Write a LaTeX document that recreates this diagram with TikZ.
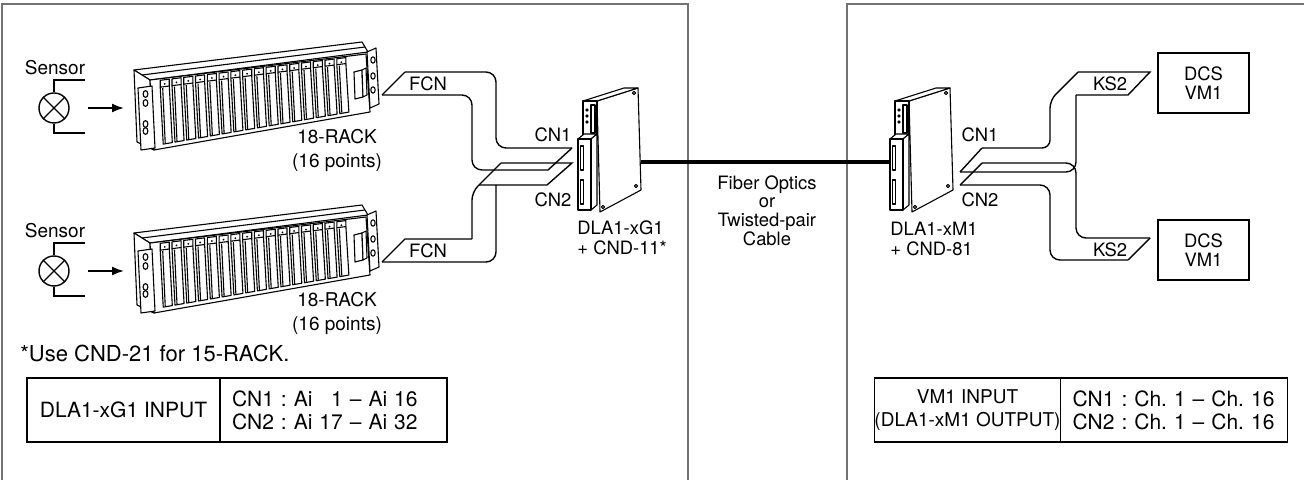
\documentclass[tikz,border=0pt]{standalone}
\usepackage{fontspec}
\setmainfont{TeX Gyre Heros}
\usetikzlibrary{positioning,calc}
\usetikzlibrary{arrows.meta}
\frenchspacing

\tikzset{
  lbl/.style={inner sep=0pt, font=\fontsize{9.5}{12}\selectfont},
  small/.style={inner sep=0pt, font=\fontsize{9.2}{10}\selectfont},
  tab/.style={inner sep=0pt, font=\fontsize{10.5}{11.5}\selectfont},
  cell/.style={draw, line width=0.7pt, minimum height=32pt, outer sep=0pt, tab},
  ribbon/.style={line width=0.7pt},
  panel/.style={draw=black!55, line width=0.9pt},
  rackline/.style={line width=0.55pt, line join=round},
}

\begin{document}
\begin{tikzpicture}[x=0.5pt, y=-0.5pt]
  \useasboundingbox (0,0) rectangle (1304,480);

  % frames
  \draw[panel] (2,480) -- (2,4) -- (688,4) -- (688,480);
  \draw[panel] (847,480) -- (847,4) -- (1304,4);

  % sensors and racks
  \foreach \dy/\i in {0/1,163/2} {
  \begin{scope}[shift={(0,\dy)}]
    \node[lbl] (t_\i) at (55,68) {Sensor};
    \node[draw, circle, minimum size=15pt, inner sep=0pt, line width=0.7pt] (s_\i) at (54,108) {};
    \draw[line width=0.6pt] (s_\i.north west) -- (s_\i.south east) (s_\i.north east) -- (s_\i.south west);
    \draw[line width=0.7pt] (s_\i.north) -- (54,80) -- (85,80);
    \draw[line width=0.7pt] (s_\i.south) -- (54,133) -- (85,133);
    \coordinate (a_\i) at (88,108);
    \coordinate (r_\i) at (124,108);
    \draw[-{Latex[length=6pt,width=4.5pt]}, line width=0.9pt] (a_\i) -- (r_\i);

    \draw[rackline, fill=white] (134,70) -- (362,42) -- (368,52) -- (150,80) -- cycle;
    \draw[rackline] (142,75) -- (365,47);
    \draw[rackline, fill=white] (134,70) -- (150,80) -- (154,150) -- (137,142) -- cycle;
    \draw[rackline, fill=white] (150,80) -- (366,54) -- (370,112) -- (154,150) -- cycle;
    \foreach \k in {0,...,15} {
      \pgfmathsetmacro{\ua}{0.045+0.0545*\k}
      \pgfmathsetmacro{\ub}{\ua+0.042}
      \pgfmathsetmacro{\xa}{150.5+216*\ua}
      \pgfmathsetmacro{\xb}{150.5+216*\ub}
      \pgfmathsetmacro{\ya}{88.4-27.44*\ua}
      \pgfmathsetmacro{\yb}{88.4-27.44*\ub}
      \pgfmathsetmacro{\yc}{145.8-37.28*\ub}
      \pgfmathsetmacro{\yd}{145.8-37.28*\ua}
      \pgfmathsetmacro{\ye}{81.5-26.4*\ua}
      \pgfmathsetmacro{\yf}{81.5-26.4*\ub}
      \draw[rackline] (\xa,\ya) -- (\xa,\ye) -- (\xb,\yf) -- (\xb,\yb);
      \fill (\xa+4.5,\ye+3.5) circle (0.5pt);
      \draw[rackline] (\xa,\ya) -- (\xb,\yb) -- (\xb+3,\yc) -- (\xa+3,\yd) -- cycle;
      \draw[rackline] (\xa+2.5,\ya+1) -- (\xa+5,\yd-1);
    }
    % connector and ears
    \draw[rackline, fill=white] (354,72) -- (362,70) -- (363,97) -- (355,99) -- cycle;
    \draw[rackline, fill=white] (362,70) -- (366,68) -- (367,95) -- (363,97) -- cycle;
    \draw[rackline, fill=white] (138,88) -- (152,86) -- (155,148) -- (141,150) -- cycle;
    \foreach \hy in {94,103,124,131} \draw[rackline] (145.5,\hy) ellipse (1.2pt and 1.7pt);
    \draw[rackline, fill=white] (367,52) -- (376,48) -- (379,104) -- (370,108) -- cycle;
    \foreach \hy in {60,76,90} \draw[rackline] (373,\hy) ellipse (1.1pt and 1.6pt);

    \node[lbl, align=center] (k_\i) at (337,150) {18-RACK\\(16 points)};
  \end{scope}
  }

  % flat cables to DLA1-xG1
  \node[small] (f_1) at (428,84) {FCN};
  \node[small] (f_2) at (428,251) {FCN};
  \draw[ribbon, rounded corners=5pt] (405,72) -- (496,72) -- (496,148) -- (572,148);
  \draw[ribbon, rounded corners=5pt] (382,95) -- (472,95) -- (472,170) -- (548,170);
  \draw[ribbon] (382,95) -- (405,72) (548,170) -- (572,148);
  \draw[ribbon] (382,262) -- (405,239) -- (472,239);
  \draw[ribbon, rounded corners=4pt] (472,239) -- (472,192) -- (501,163);
  \draw[ribbon] (501,163) -- (572,163) -- (547,185) -- (479,185);
  \draw[ribbon, rounded corners=5pt] (382,262) -- (496,262) -- (496,185);

  % DLA1 units
  \foreach \dx in {0,312} {
  \begin{scope}[shift={(\dx,0)}]
    \draw[rackline, fill=white] (597,101) -- (638,88) -- (641,190) -- (600,212) -- cycle;
    \draw[rackline, fill=white] (583,101) -- (624,88) -- (638,88) -- (597,101) -- cycle;
    \draw[rackline, fill=white] (583,101) rectangle (597,140);
    \draw[rackline] (591,105) rectangle (595,133);
    \foreach \ly in {110,116,122} \draw[rackline] (587,\ly) circle (0.6pt);
    \foreach \sx/\sy in {634/93,636/186,603/207} \draw[rackline] (\sx,\sy) circle (0.8pt);
    \draw[rackline, fill=white] (578,139) -- (584,134) -- (597,134) -- (591,139) -- cycle;
    \draw[rackline, fill=white] (591,139) -- (597,134) -- (597,205) -- (591,210) -- cycle;
    \draw[rackline, fill=white] (578,139) rectangle (591,210);
    \draw[rackline] (580.5,146) rectangle (583.5,170);
    \draw[rackline] (580.5,180) rectangle (583.5,204);
  \end{scope}
  }

  % link
  \coordinate (c_1) at (641,162);
  \coordinate (c_2) at (890,162);
  \draw[line width=1.6pt] (c_1) -- (c_2);

  \node[small] (n_1) at (553,135) {CN1};
  \node[small] (n_2) at (553,200) {CN2};
  \node[small] (n_3) at (980,135) {CN1};
  \node[small] (n_4) at (980,200) {CN2};
  \node[small, anchor=west, align=left] (u_1) at (577,238) {DLA1-xG1\\+ CND-11*};
  \node[small, anchor=west, align=left] (u_2) at (890,239) {DLA1-xM1\\+ CND-81};
  \node[small, align=center, font=\fontsize{9.2}{9.3}\selectfont] (l_1) at (767,210.5) {Fiber Optics\\or\\Twisted-pair\\Cable};

  % flat cables to DCS
  \draw[ribbon, rounded corners=4pt] (982,148) -- (1050,148) -- (1050,100) -- (1078,72);
  \draw[ribbon] (1078,72) -- (1150,72) -- (1128,95) -- (1076,95);
  \draw[ribbon, rounded corners=5pt] (1076,95) -- (1076,172) -- (960,172);
  \draw[ribbon] (960,172) -- (982,148);
  \draw[ribbon] (960,185) -- (982,163);
  \draw[ribbon, rounded corners=5pt] (982,163) -- (1076,163) -- (1076,238) -- (1150,238);
  \draw[ribbon, rounded corners=5pt] (960,185) -- (1050,185) -- (1050,260) -- (1128,260);
  \draw[ribbon] (1128,260) -- (1150,238);
  \node[small] (k_3) at (1110,84) {KS2};
  \node[small] (k_4) at (1110,250) {KS2};
  \node[draw, small, align=center, font=\fontsize{9.2}{9.5}\selectfont, line width=0.7pt, minimum width=45.5pt, minimum height=30pt] (d_1) at (1203.5,83) {DCS\\VM1};
  \node[draw, small, align=center, font=\fontsize{9.2}{9.5}\selectfont, line width=0.7pt, minimum width=45.5pt, minimum height=30pt] (d_2) at (1203.5,250) {DCS\\VM1};

  % tables
  \node[tab, anchor=west, font=\fontsize{11}{12}\selectfont] (m_1) at (20,353) {*Use CND-21 for 15-RACK.};
  \node[cell, minimum width=96.5pt] (i_1) at (123.5,410) {DLA1-xG1 INPUT};
  \node[cell, right=0pt of i_1, text width=101.5pt, inner xsep=6pt, align=left] (i_2) {CN1 : Ai \phantom{1}1 – Ai 16\\CN2 : Ai 17 – Ai 32};
  \node[cell, minimum width=91.5pt, align=center, font=\fontsize{9.5}{11.5}\selectfont] (o_1) at (967.5,410) {VM1 INPUT\\(DLA1-xM1 OUTPUT)};
  \node[cell, right=0pt of o_1, text width=101.5pt, inner xsep=6pt, align=left] (o_2) {CN1 : Ch. 1 – Ch. 16\\CN2 : Ch. 1 – Ch. 16};
\end{tikzpicture}
\end{document}
